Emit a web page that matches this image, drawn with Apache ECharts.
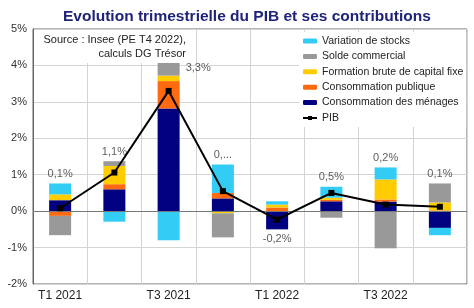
<!DOCTYPE html>
<html>
<head>
<meta charset="utf-8">
<script src="https://cdn.jsdelivr.net/npm/echarts@6/dist/echarts.min.js"></script>
<style>
  html, body { margin: 0; padding: 0; background: #fff; }
  #chart { width: 474px; height: 308px; }
</style>
</head>
<body>
<div id="chart"></div>
<script>
// quarters and contributions (points de %)
var quarters = ['T1 2021', 'T2 2021', 'T3 2021', 'T4 2021', 'T1 2022', 'T2 2022', 'T3 2022', 'T4 2022'];
var menages  = [0.30, 0.60, 2.82, 0.35, -0.50, 0.27, 0.26, -0.46];
var publique = [-0.13, 0.14, 0.75, 0.15, 0.10, 0.04, 0.06, 0.02];
var fbcf     = [0.16, 0.50, 0.15, -0.06, 0.08, 0.06, 0.55, 0.22];
var solde    = [-0.53, 0.13, 0.38, -0.66, 0, -0.18, -1.02, 0.52];
var stocks   = [0.30, -0.29, -0.80, 0.78, 0.09, 0.30, 0.33, -0.20];
var pib      = [0.08, 1.06, 3.30, 0.55, -0.23, 0.50, 0.18, 0.12];
var pibLabels = ['0,1%', '1,1%', '3,3%', '0,...', '-0,2%', '0,5%', '0,2%', '0,1%'];
var yTicks = [-2, -1, 0, 1, 2, 3, 4, 5];

var font = 'Liberation Sans';
var chart = echarts.init(document.getElementById('chart'));

// label anchors: top of positive stack (bottom of negative stack when PIB < 0)
var parts = [menages, publique, fbcf, solde, stocks];
var labelData = quarters.map(function (q, i) {
    var pos = 0, neg = 0;
    parts.forEach(function (p) { if (p[i] > 0) pos += p[i]; else neg += p[i]; });
    var below = pib[i] < 0;
    var lab = { position: below ? 'bottom' : 'top', formatter: pibLabels[i] };
    if (i === 2) { lab = { position: 'right', distance: 17, offset: [0, 6], formatter: pibLabels[i] }; }
    return { value: [i, below ? neg : pos], label: lab };
});

function barSeries(name, data, color) {
    return {
        name: name, type: 'bar', stack: 'c', data: data, barWidth: 22,
        itemStyle: { color: color }, emphasis: { disabled: true }
    };
}

var option = {
    animation: false,
    title: {
        text: 'Evolution trimestrielle du PIB et ses contributions',
        left: 58, top: 4,
        textStyle: { fontFamily: font, fontSize: 15.5, fontWeight: 'bold', color: '#1f237a' }
    },
    grid: { left: 33, right: 7, top: 29, bottom: 24, show: true, borderColor: '#666', borderWidth: 1 },
    legend: {
        orient: 'vertical', left: 299, top: 32,
        backgroundColor: '#fff', padding: [2, 3, 2, 3],
        itemWidth: 14, itemHeight: 5, itemGap: 1.4,
        textStyle: { fontFamily: font, fontSize: 10.5, color: '#222', lineHeight: 14 },
        data: ['Variation de stocks', 'Solde commercial', 'Formation brute de capital fixe',
               'Consommation publique', 'Consommation des ménages', 'PIB']
    },
    xAxis: {
        type: 'category', data: quarters,
        axisLine: { show: false },
        axisTick: { show: false },
        axisLabel: { interval: 1, fontFamily: font, fontSize: 12, color: '#222', margin: 6 },
        splitLine: { show: true, interval: 0, lineStyle: { color: '#d4d4d4' } }
    },
    yAxis: {
        type: 'value', min: -2, max: 5, interval: 1,
        axisLine: { show: true, lineStyle: { color: '#666' } },
        axisTick: { show: false },
        axisLabel: { fontFamily: font, fontSize: 11, color: '#333', margin: 6,
                     formatter: function (v) { return yTicks.indexOf(v) >= 0 ? v + '%' : ''; } },
        splitLine: { lineStyle: { color: '#d4d4d4' } }
    },
    graphic: [{
        type: 'group', left: 34, top: 30, z: 50,
        children: [
            { type: 'rect', z: 50, shape: { x: 0, y: 0, width: 156, height: 33 }, style: { fill: '#fff' } },
            { type: 'text', z: 51, x: 152, y: 3, style: {
                text: 'Source : Insee (PE T4 2022),\ncalculs DG Trésor', align: 'right',
                font: '11px "Liberation Sans"', fill: '#222', lineHeight: 14 } }
        ]
    }],
    series: [
        barSeries('Consommation des ménages', menages, '#000080'),
        barSeries('Consommation publique', publique, '#ff6a10'),
        barSeries('Formation brute de capital fixe', fbcf, '#ffcc00'),
        barSeries('Solde commercial', solde, '#999999'),
        barSeries('Variation de stocks', stocks, '#33ccf5'),
        {
            name: 'zero', type: 'line', data: [], silent: true,
            markLine: { symbol: 'none', silent: true, label: { show: false },
                        lineStyle: { color: '#777', width: 1, type: 'solid' }, data: [{ yAxis: 0 }] }
        },
        {
            name: 'PIB', type: 'line', data: pib, z: 5,
            symbol: 'rect', symbolSize: 6,
            lineStyle: { color: '#000', width: 2 },
            itemStyle: { color: '#000' }
        },
        {
            name: 'labels', type: 'scatter', data: labelData, symbolSize: 0, silent: true,
            label: { show: true, distance: 4, fontFamily: font, fontSize: 11, color: '#333' }
        }
    ]
};
chart.setOption(option);
</script>
</body>
</html>
